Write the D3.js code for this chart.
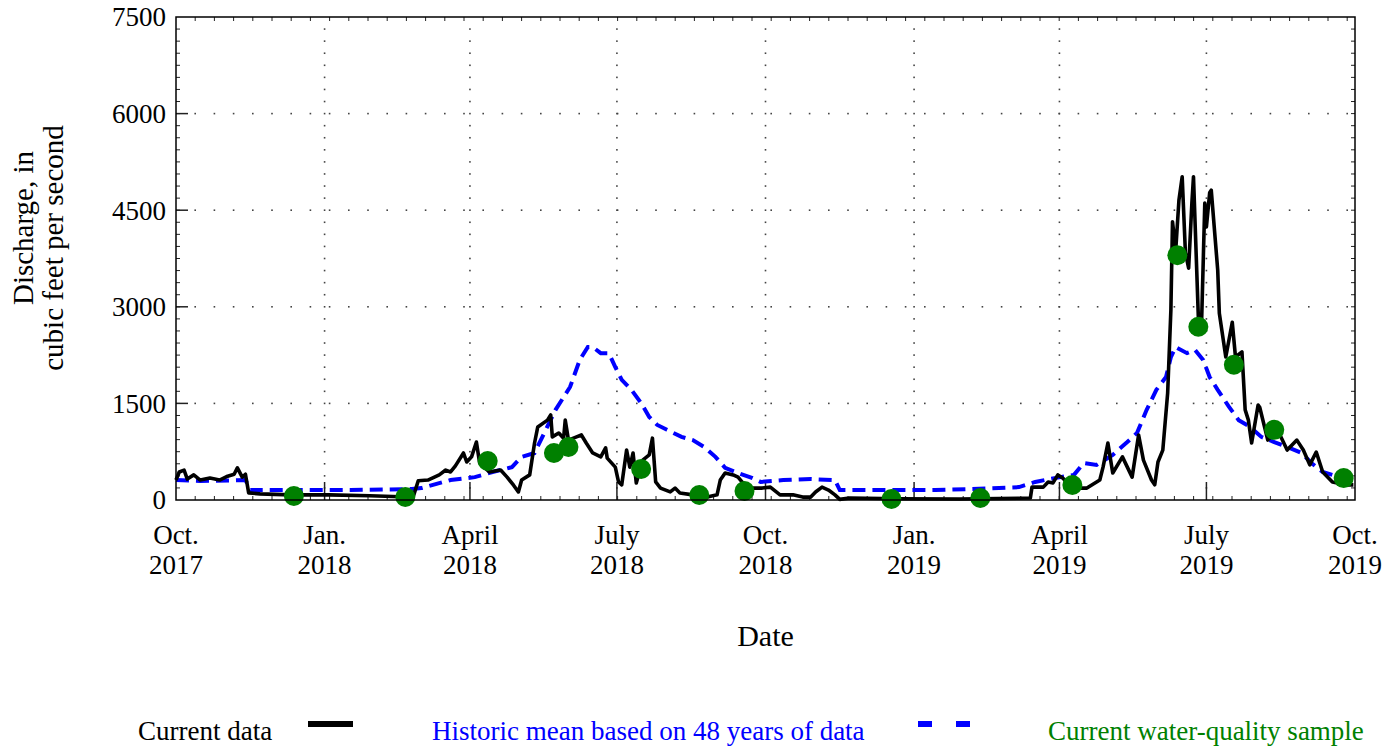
<!DOCTYPE html>
<html>
<head>
<meta charset="utf-8">
<script src="https://cdn.jsdelivr.net/npm/d3@7"></script>
<style>
  body { margin: 0; background: #fff; }
  svg { font-family: "Liberation Serif", "Times New Roman", serif; }
</style>
</head>
<body>
<svg id="chart" width="1394" height="751"></svg>
<script>
// Current discharge (daily values)
const currentDates = [
  "2017-10-01","2017-10-03","2017-10-06","2017-10-08","2017-10-12","2017-10-16","2017-10-22","2017-10-28",
  "2017-11-02","2017-11-06","2017-11-08","2017-11-11","2017-11-13","2017-11-15","2017-11-22","2017-12-11",
  "2018-01-04","2018-01-29","2018-02-17","2018-02-25","2018-02-28","2018-03-06","2018-03-13","2018-03-17",
  "2018-03-20","2018-03-23","2018-03-28","2018-03-30","2018-04-02","2018-04-05","2018-04-07","2018-04-13",
  "2018-04-20","2018-04-24","2018-04-28","2018-05-01","2018-05-03","2018-05-08","2018-05-11","2018-05-13",
  "2018-05-19","2018-05-21","2018-05-22","2018-05-26","2018-05-29","2018-05-30","2018-06-01","2018-06-06",
  "2018-06-09","2018-06-12","2018-06-16","2018-06-21","2018-06-24","2018-06-25","2018-06-30","2018-07-02",
  "2018-07-04","2018-07-07","2018-07-09","2018-07-11","2018-07-13","2018-07-17","2018-07-21","2018-07-23",
  "2018-07-25","2018-07-28","2018-08-03","2018-08-06","2018-08-09","2018-08-17","2018-08-26","2018-09-01",
  "2018-09-03","2018-09-06","2018-09-11","2018-09-14","2018-09-18","2018-09-23","2018-09-29","2018-10-04",
  "2018-10-10","2018-10-18","2018-10-24","2018-10-29","2018-11-01","2018-11-05","2018-11-09","2018-11-13",
  "2018-11-16","2018-11-22","2018-12-23","2019-01-29","2019-03-14","2019-03-15","2019-03-22","2019-03-25",
  "2019-03-28","2019-03-31","2019-04-03","2019-04-09","2019-04-18","2019-04-26","2019-04-28","2019-05-01",
  "2019-05-04","2019-05-10","2019-05-16","2019-05-20","2019-05-23","2019-05-28","2019-05-30","2019-06-01",
  "2019-06-04","2019-06-07","2019-06-09","2019-06-10","2019-06-12","2019-06-14","2019-06-16","2019-06-18",
  "2019-06-20","2019-06-22","2019-06-23","2019-06-26","2019-06-28","2019-06-30","2019-07-01","2019-07-03",
  "2019-07-04","2019-07-08","2019-07-09","2019-07-13","2019-07-17","2019-07-19","2019-07-23","2019-07-25",
  "2019-07-27","2019-07-29","2019-08-02","2019-08-03","2019-08-08","2019-08-14","2019-08-20","2019-08-26",
  "2019-08-30","2019-09-03","2019-09-07","2019-09-11","2019-09-17","2019-09-26","2019-09-30"
];
const currentValues = [
  310,435,465,325,390,310,340,310,
  370,400,500,355,400,110,95,80,
  80,65,50,60,300,310,390,465,
  435,530,730,590,670,900,575,435,
  465,355,230,125,310,390,885,1135,
  1240,1320,980,1040,960,1240,930,980,
  1010,885,730,670,810,650,510,280,
  235,775,510,730,265,620,700,960,
  280,185,125,185,110,80,45,80,
  310,420,390,355,235,185,185,200,
  80,80,45,45,125,200,155,80,
  10,30,20,15,30,200,200,280,
  265,390,340,185,185,310,510,885,
  420,670,355,1010,620,310,235,590,
  775,1660,2950,4320,3880,4660,5020,3840,
  3600,4610,5020,2840,2750,4610,4240,4770,
  4810,3570,2900,2220,2760,2220,2300,1400,
  1240,885,1475,1440,930,1090,775,930,
  775,545,745,435,280,235,235
];

// Historic mean based on 48 years of data
const historicDates = [
  "2017-10-01","2017-10-16","2017-11-13","2017-11-16","2017-12-11","2018-01-17","2018-02-24","2018-03-02",
  "2018-03-20","2018-04-04","2018-04-15","2018-04-27","2018-05-03","2018-05-11","2018-05-17","2018-05-24",
  "2018-06-02","2018-06-08","2018-06-13","2018-06-16","2018-06-21","2018-06-26","2018-06-30","2018-07-04",
  "2018-07-10","2018-07-16","2018-07-21","2018-07-26","2018-08-01","2018-08-10","2018-08-17","2018-08-24",
  "2018-08-31","2018-09-06","2018-09-14","2018-09-23","2018-09-28","2018-10-12","2018-10-29","2018-11-13",
  "2018-11-16","2018-12-06","2019-01-14","2019-02-04","2019-03-07","2019-03-17","2019-03-29","2019-04-10",
  "2019-04-16","2019-04-24","2019-05-04","2019-05-13","2019-05-19","2019-05-25","2019-05-31","2019-06-06",
  "2019-06-09","2019-06-12","2019-06-19","2019-06-24","2019-06-29","2019-07-03","2019-07-08","2019-07-15",
  "2019-07-21","2019-07-28","2019-08-04","2019-08-12","2019-08-20","2019-08-29","2019-09-04","2019-09-11",
  "2019-09-17","2019-09-25","2019-09-30"
];
const historicValues = [
  310,295,310,155,155,155,170,185,
  310,355,435,510,670,730,1040,1400,
  1755,2175,2375,2375,2280,2280,2065,1865,
  1710,1505,1290,1165,1090,980,930,825,
  670,500,420,340,280,310,325,310,
  155,155,155,170,200,280,340,390,
  575,545,700,900,1040,1400,1710,1910,
  2220,2375,2280,2330,2175,1910,1710,1445,
  1240,1135,980,900,825,730,575,435,
  390,310,265
];

// Current water-quality samples
const sampleDates = [
  "2017-12-13","2018-02-20","2018-04-12","2018-05-23","2018-06-01","2018-07-16","2018-08-21","2018-09-18",
  "2018-12-18","2019-02-11","2019-04-09","2019-06-13","2019-06-26","2019-07-18","2019-08-12","2019-09-24"
];
const sampleValues = [
  62,47,605,730,823,481,78,140,
  16,31,233,3800,2690,2100,1090,340
];

// Axis ticks
const xTickDates = ["2017-10-01","2018-01-01","2018-04-01","2018-07-01","2018-10-01","2019-01-01","2019-04-01","2019-07-01","2019-10-01"];
const xTickMonths = ["Oct.","Jan.","April","July","Oct.","Jan.","April","July","Oct."];
const xTickYears = ["2017","2018","2018","2018","2018","2019","2019","2019","2019"];
const yTicks = [0, 1500, 3000, 4500, 6000, 7500];

const parse = d3.timeParse("%Y-%m-%d");

const margin = { top: 17, right: 39, bottom: 251, left: 176 };
const width = 1394 - margin.left - margin.right;
const height = 751 - margin.top - margin.bottom;

const svg = d3.select("#chart");
const chart = svg.append("g").attr("transform", `translate(${margin.left},${margin.top})`);

// Scales
const x = d3.scaleTime()
  .domain([parse(xTickDates[0]), parse(xTickDates[xTickDates.length - 1])])
  .range([0, width]);
const y = d3.scaleLinear().domain([0, 7500]).range([height, 0]);

// minor tick positions (dotted grid follows these)
const xMinor = d3.range(19.2, width - 1, 19.2);
const yMinor = d3.range(187.5, 7500, 187.5).map(v => y(v));

// dotted grid
const grid = chart.append("g").attr("class", "grid").attr("fill", "#444");
yTicks.slice(1, -1).forEach(t => {
  grid.selectAll(null)
    .data(xMinor)
    .enter()
    .append("rect")
    .attr("x", d => d - 0.8)
    .attr("y", y(t) - 0.8)
    .attr("width", 1.6)
    .attr("height", 1.6);
});
xTickDates.slice(1, -1).forEach(t => {
  grid.selectAll(null)
    .data(yMinor)
    .enter()
    .append("rect")
    .attr("x", x(parse(t)) - 0.8)
    .attr("y", d => d - 0.8)
    .attr("width", 1.6)
    .attr("height", 1.6);
});

// minor ticks on all four sides
const ticks = chart.append("g").attr("stroke", "#222").attr("stroke-width", 1);
ticks.selectAll(".mb").data(xMinor).enter().append("line")
  .attr("x1", d => d).attr("x2", d => d).attr("y1", height).attr("y2", height - 4);
ticks.selectAll(".mt").data(xMinor).enter().append("line")
  .attr("x1", d => d).attr("x2", d => d).attr("y1", 0).attr("y2", 4);
ticks.selectAll(".ml").data(yMinor).enter().append("line")
  .attr("x1", 0).attr("x2", 4).attr("y1", d => d).attr("y2", d => d);
ticks.selectAll(".mr").data(yMinor).enter().append("line")
  .attr("x1", width).attr("x2", width - 4).attr("y1", d => d).attr("y2", d => d);

// major ticks
ticks.selectAll(".xmaj").data(xTickDates.slice(1, -1)).enter().append("line")
  .attr("x1", d => x(parse(d))).attr("x2", d => x(parse(d)))
  .attr("y1", height).attr("y2", height - 18).attr("stroke-width", 1.5);
ticks.selectAll(".ymaj").data(yTicks.slice(1, -1)).enter().append("line")
  .attr("x1", 0).attr("x2", 12)
  .attr("y1", d => y(d)).attr("y2", d => y(d)).attr("stroke-width", 1.5);

// lines
const line = d3.line()
  .x(d => x(d.date))
  .y(d => y(d.value));

const historic = historicDates.map((d, i) => ({ date: parse(d), value: historicValues[i] }));
const current = currentDates.map((d, i) => ({ date: parse(d), value: currentValues[i] }));
const samples = sampleDates.map((d, i) => ({ date: parse(d), value: sampleValues[i] }));

chart.append("path")
  .datum(historic)
  .attr("d", line)
  .attr("fill", "none")
  .attr("stroke", "#0000ff")
  .attr("stroke-width", 4)
  .attr("stroke-dasharray", "13,7");

chart.append("path")
  .datum(current)
  .attr("d", line)
  .attr("fill", "none")
  .attr("stroke", "#000")
  .attr("stroke-width", 3.6)
  .attr("stroke-linejoin", "round");

chart.selectAll(".sample")
  .data(samples)
  .enter()
  .append("circle")
  .attr("class", "sample")
  .attr("cx", d => x(d.date))
  .attr("cy", d => y(d.value))
  .attr("r", 10)
  .attr("fill", "#008000");

// frame
chart.append("rect")
  .attr("width", width)
  .attr("height", height)
  .attr("fill", "none")
  .attr("stroke", "#000")
  .attr("stroke-width", 1.5);

// y tick labels
chart.selectAll(".ylab")
  .data(yTicks)
  .enter()
  .append("text")
  .attr("x", -10)
  .attr("y", d => y(d))
  .attr("dy", "0.35em")
  .attr("text-anchor", "end")
  .attr("font-size", 27)
  .text(d => d);

// x tick labels (two lines)
const xl = chart.selectAll(".xlab")
  .data(xTickDates)
  .enter()
  .append("text")
  .attr("text-anchor", "middle")
  .attr("font-size", 27)
  .attr("x", d => x(parse(d)));
xl.append("tspan").attr("x", d => x(parse(d))).attr("y", height + 44).text((d, i) => xTickMonths[i]);
xl.append("tspan").attr("x", d => x(parse(d))).attr("y", height + 74).text((d, i) => xTickYears[i]);

// axis titles
chart.append("text")
  .attr("x", width / 2)
  .attr("y", height + 146)
  .attr("text-anchor", "middle")
  .attr("font-size", 30)
  .text("Date");

const yTitle = svg.append("text")
  .attr("transform", "rotate(-90)")
  .attr("text-anchor", "middle")
  .attr("font-size", 29);
yTitle.append("tspan").attr("x", -228).attr("y", 33).text("Discharge, in");
yTitle.append("tspan").attr("x", -248).attr("y", 63).text("cubic feet per second");

// legend
const legend = svg.append("g").attr("font-size", 27);
legend.append("text").attr("x", 138).attr("y", 740).attr("fill", "#000").text("Current data");
legend.append("line").attr("x1", 308).attr("x2", 353).attr("y1", 724).attr("y2", 724)
  .attr("stroke", "#000").attr("stroke-width", 6);
legend.append("text").attr("x", 432).attr("y", 740).attr("fill", "#0000ff").text("Historic mean based on 48 years of data");
legend.append("line").attr("x1", 918).attr("x2", 972).attr("y1", 724).attr("y2", 724)
  .attr("stroke", "#0000ff").attr("stroke-width", 6).attr("stroke-dasharray", "14,24");
legend.append("text").attr("x", 1048).attr("y", 740).attr("fill", "#008000").text("Current water-quality sample");
</script>
</body>
</html>
